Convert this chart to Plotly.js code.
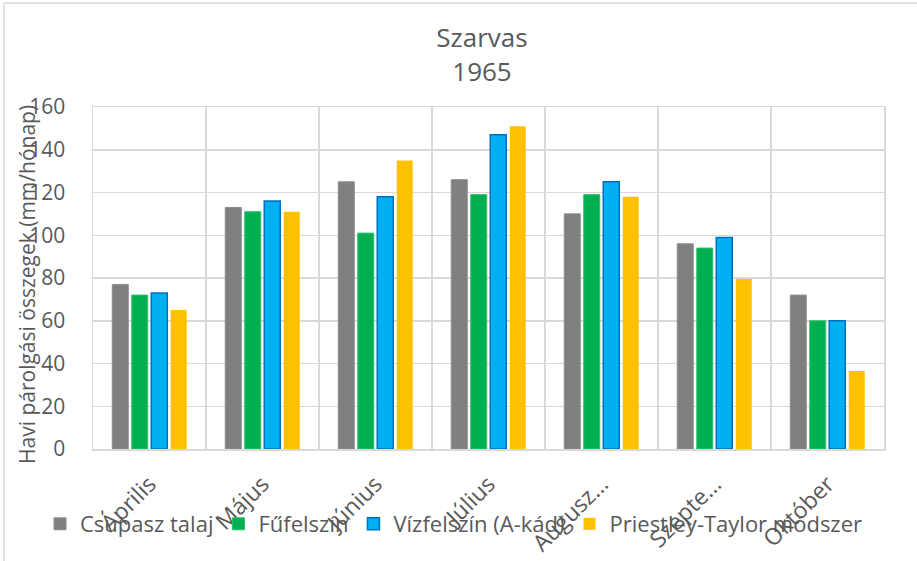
<!DOCTYPE html>
<html>
<head>
<meta charset="utf-8">
<script src="https://cdn.plot.ly/plotly-3.0.1.min.js"></script>
<style>
  html, body { margin: 0; padding: 0; background: #fff; }
  #chart { width: 917px; height: 561px; }
</style>
</head>
<body>
<div id="chart"></div>
<script>
const months = ["Április", "Május", "Június", "Július", "Augusz…", "Szepte…", "Október"];
const csupaszTalaj = [77, 113, 125, 126, 110, 96, 72];
const fufelszin = [72, 111, 101, 119, 119, 94, 60];
const vizfelszin = [73, 116, 118, 147, 125, 99, 60];
const priestleyTaylor = [65, 111, 135, 151, 118, 79.5, 36.5];
const seriesNames = ["Csupasz talaj", "Fűfelszín", "Vízfelszín (A-kád)", "Priestley-Taylor módszer"];
const yTicks = [0, 20, 40, 60, 80, 100, 120, 140, 160];

const FONT = "Open Sans, Liberation Sans, sans-serif";
const TXT = "#595959";
const GRID = "#D9D9D9";

const traces = [
  {name: seriesNames[0], y: csupaszTalaj, color: "#7F7F7F", line: {color: "#8C8C8C", width: 1}},
  {name: seriesNames[1], y: fufelszin, color: "#00B050", line: {color: "#2DBF6A", width: 1}},
  {name: seriesNames[2], y: vizfelszin, color: "#00B0F0", line: {color: "#0070C0", width: 1.5}},
  {name: seriesNames[3], y: priestleyTaylor, color: "#FFC000", line: {color: "#FFC000", width: 0}}
].map(s => ({
  type: "bar",
  name: s.name,
  x: months,
  y: s.y,
  marker: {color: s.color, line: s.line},
  hoverinfo: "x+y+name"
}));

const L = 93, R = 884, T = 107, B = 449;
const W = 917, H = 561;
const px2x = p => (p - L) / (R - L);
const py2y = p => (B - p) / (B - T);

const layout = {
  width: W, height: H,
  margin: {l: L, r: W - R, t: T, b: H - B, autoexpand: false},
  paper_bgcolor: "#fff",
  plot_bgcolor: "#fff",
  font: {family: FONT, color: TXT, size: 22},
  title: {
    text: "Szarvas<br>1965",
    font: {family: FONT, size: 26, color: TXT},
    x: 482 / W, xref: "container", xanchor: "center",
    y: 1 - 47 / H, yref: "container", yanchor: "top"
  },
  barmode: "group",
  bargap: 0.31,
  bargroupgap: 0.18,
  xaxis: {
    type: "category",
    tickson: "boundaries",
    showgrid: true,
    gridcolor: GRID,
    gridwidth: 1.5,
    showline: true,
    linecolor: GRID,
    linewidth: 1.5,
    mirror: true,
    ticks: "",
    tickangle: -45,
    tickfont: {family: FONT, size: 23, color: TXT},
    ticklabelstandoff: 11,
    automargin: false
  },
  yaxis: {
    range: [0, 160],
    tickvals: yTicks,
    showgrid: true,
    gridcolor: GRID,
    gridwidth: 1.5,
    showline: true,
    linecolor: GRID,
    linewidth: 1.5,
    mirror: true,
    zeroline: false,
    ticks: "",
    tickfont: {family: FONT, size: 21, color: TXT},
    ticklabelstandoff: 22,
    automargin: false
  },
  legend: {
    orientation: "h",
    xref: "paper",
    x: px2x(40), xanchor: "left",
    yref: "paper",
    y: py2y(524), yanchor: "middle",
    font: {family: FONT, size: 22, color: TXT},
    bgcolor: "rgba(0,0,0,0)",
    itemwidth: 30,
    traceorder: "normal"
  },
  annotations: [{
    text: "Havi párolgási összegek (mm/hónap)",
    xref: "paper", yref: "paper",
    x: px2x(27), y: py2y(285),
    xanchor: "center", yanchor: "middle",
    textangle: -90,
    showarrow: false,
    font: {family: FONT, size: 21, color: TXT}
  }],
  shapes: [
    {type: "line", xref: "paper", yref: "paper", x0: px2x(4), x1: px2x(960), y0: py2y(3), y1: py2y(3), line: {color: GRID, width: 1.5}},
    {type: "line", xref: "paper", yref: "paper", x0: px2x(4), x1: px2x(4), y0: py2y(3), y1: py2y(600), line: {color: GRID, width: 1.5}}
  ],
  showlegend: true
};

Plotly.newPlot("chart", traces, layout, {displayModeBar: false, staticPlot: true});
</script>
</body>
</html>
